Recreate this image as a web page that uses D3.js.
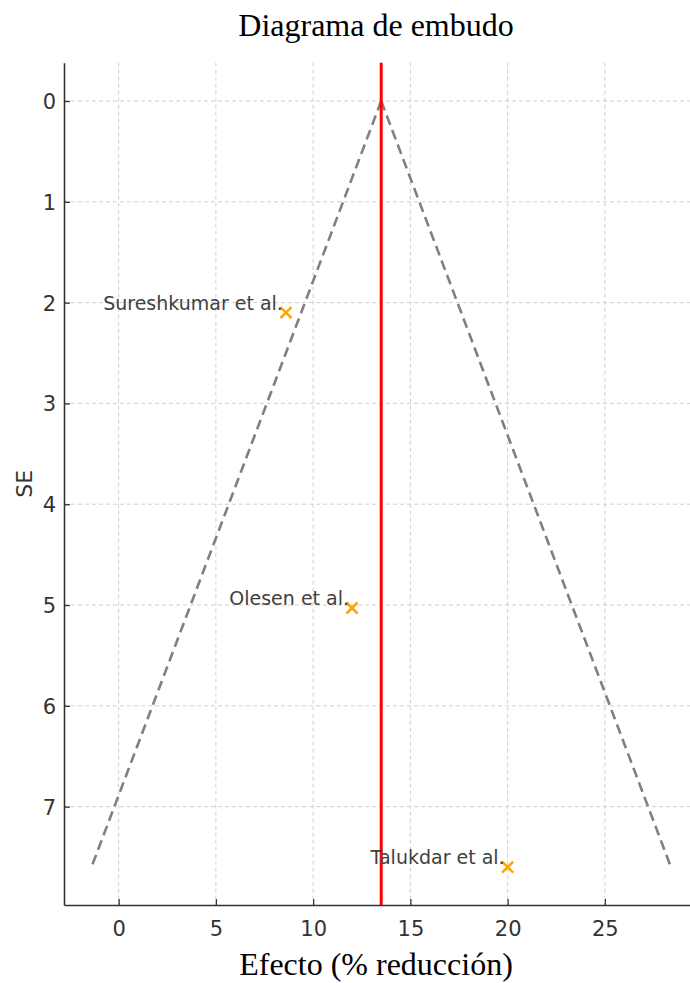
<!DOCTYPE html>
<html>
<head>
<meta charset="utf-8">
<script src="https://cdn.jsdelivr.net/npm/d3@7"></script>
<style>
  body { margin: 0; background: #fff; }
  svg { display: block; }
</style>
</head>
<body>
<svg id="svg" width="690" height="983"></svg>
<script>
// study data
const studies = ["Sureshkumar et al.", "Olesen et al.", "Talukdar et al."]
const effects = [8.6, 12, 20]
const ses = [2.1, 5.03, 7.6]
const pooled = 13.5
const funnelSE = [0, 7.6]
const xTicks = [0, 5, 10, 15, 20, 25]
const yTicks = [0, 1, 2, 3, 4, 5, 6, 7]

const svg = d3.select("#svg")
const plotLeft = 64, plotRight = 699, plotTop = 62.7, plotBottom = 905

const x = d3.scaleLinear().domain([-2.81, 29.84]).range([plotLeft, plotRight])
const y = d3.scaleLinear().domain([-0.38, 7.976]).range([plotTop, plotBottom])

// grid
const grid = svg.append("g")
  .attr("stroke", "#cfcfcf")
  .attr("stroke-width", 1)
  .attr("stroke-dasharray", "4,3")
grid.selectAll(".gx").data(xTicks).enter().append("line")
  .attr("x1", d => x(d)).attr("x2", d => x(d))
  .attr("y1", plotTop).attr("y2", plotBottom)
grid.selectAll(".gy").data(yTicks).enter().append("line")
  .attr("x1", plotLeft).attr("x2", plotRight)
  .attr("y1", d => y(d)).attr("y2", d => y(d))

// funnel
const line = d3.line().x(d => x(d[0])).y(d => y(d[1]))
const sides = [-1, 1].map(s => funnelSE.map(se => [pooled + s * 1.96 * se, se]))
svg.append("g").selectAll("path").data(sides).enter().append("path")
  .attr("d", line)
  .attr("fill", "none")
  .attr("stroke", "#808080")
  .attr("stroke-width", 2.6)
  .attr("stroke-dasharray", "10,5.5")

// pooled effect
svg.append("line")
  .attr("x1", x(pooled)).attr("x2", x(pooled))
  .attr("y1", plotTop).attr("y2", plotBottom)
  .attr("stroke", "#ff0000")
  .attr("stroke-width", 3)

// axes
const xAxis = svg.append("g")
  .attr("transform", "translate(0," + plotBottom + ")")
  .call(d3.axisBottom(x).tickValues(xTicks).tickSizeInner(-6).tickSizeOuter(0).tickPadding(12))
const yAxis = svg.append("g")
  .attr("transform", "translate(" + plotLeft + ",0)")
  .call(d3.axisLeft(y).tickValues(yTicks).tickSizeInner(-6).tickSizeOuter(0).tickPadding(8))
;[xAxis, yAxis].forEach(a => {
  a.select(".domain").attr("stroke", "#333").attr("stroke-width", 1.6)
  a.selectAll(".tick line").attr("stroke", "#333").attr("stroke-width", 1.3)
  a.selectAll(".tick text")
    .attr("fill", "#333")
    .style("font-family", "DejaVu Sans")
    .style("font-size", "21px")
})
xAxis.selectAll(".tick text").attr("dy", "0.9em")
yAxis.selectAll(".tick text").attr("dy", "0.36em")

// points
const pts = svg.append("g").selectAll("g").data(studies).enter().append("g")
  .attr("transform", (d, i) => "translate(" + x(effects[i]) + "," + y(ses[i]) + ")")
pts.append("path")
  .attr("d", "M-5.5,-5.5L5.5,5.5M-5.5,5.5L5.5,-5.5")
  .attr("stroke", "#ffa500")
  .attr("stroke-width", 2.6)
pts.append("text")
  .attr("x", -3)
  .attr("y", -3)
  .attr("text-anchor", "end")
  .attr("fill", "#404040")
  .style("font-family", "DejaVu Sans")
  .style("font-size", "19px")
  .text(d => d)

// titles
svg.append("text")
  .attr("x", 376).attr("y", 36)
  .attr("text-anchor", "middle")
  .style("font-family", "Liberation Serif")
  .style("font-size", "32px")
  .text("Diagrama de embudo")
svg.append("text")
  .attr("x", 376).attr("y", 975)
  .attr("text-anchor", "middle")
  .style("font-family", "Liberation Serif")
  .style("font-size", "32px")
  .text("Efecto (% reducción)")
svg.append("text")
  .attr("transform", "translate(32," + (plotTop + plotBottom) / 2 + ") rotate(-90)")
  .attr("text-anchor", "middle")
  .attr("fill", "#333")
  .style("font-family", "DejaVu Sans")
  .style("font-size", "22px")
  .text("SE")
</script>
</body>
</html>
